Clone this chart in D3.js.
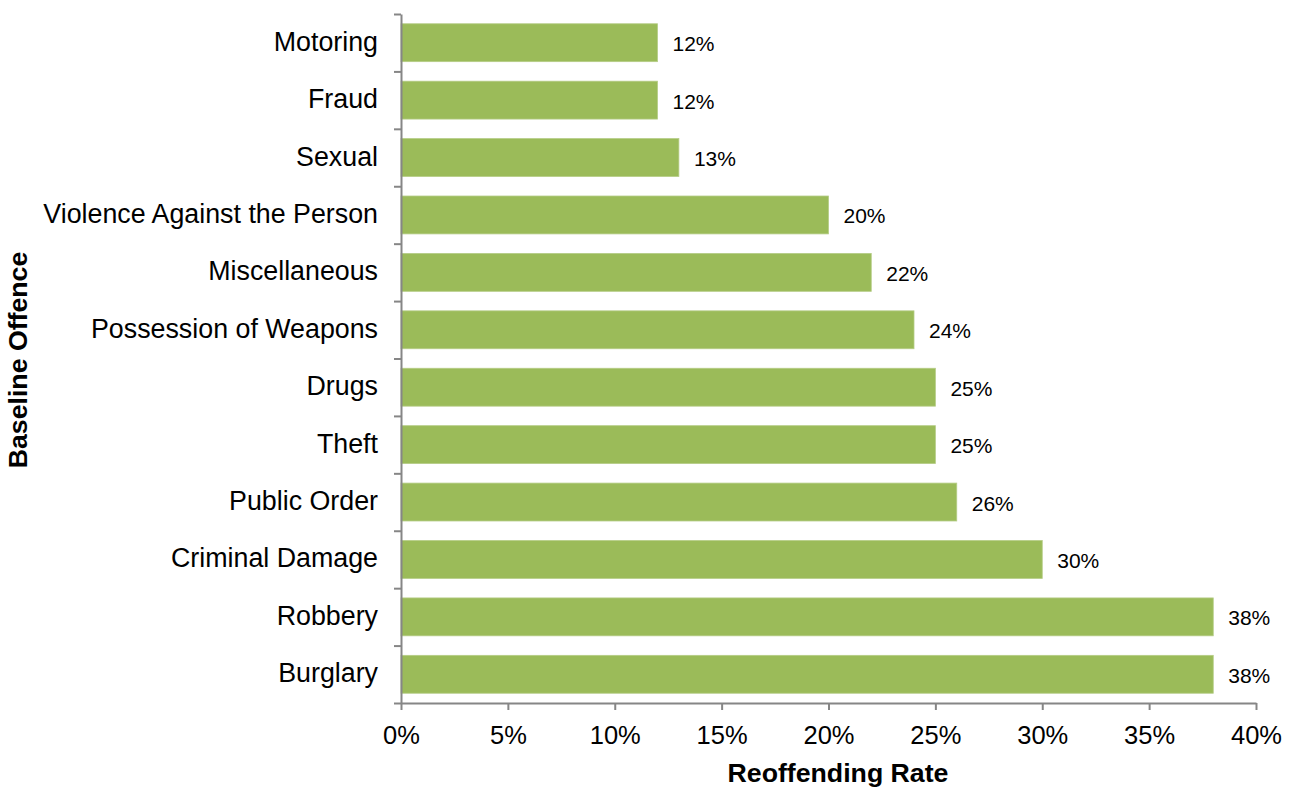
<!DOCTYPE html>
<html>
<head>
<meta charset="utf-8">
<script src="https://cdn.jsdelivr.net/npm/d3@7"></script>
<style>
  body { margin: 0; background: #fff; }
  svg { display: block; font-family: "Liberation Sans", Arial, sans-serif; }
</style>
</head>
<body>
<svg id="chart" width="1298" height="787"></svg>
<script>
  const categories = ["Motoring", "Fraud", "Sexual", "Violence Against the Person", "Miscellaneous",
    "Possession of Weapons", "Drugs", "Theft", "Public Order", "Criminal Damage", "Robbery", "Burglary"];
  const rates = [0.12, 0.12, 0.13, 0.20, 0.22, 0.24, 0.25, 0.25, 0.26, 0.30, 0.38, 0.38];
  const xTicks = [0, 0.05, 0.10, 0.15, 0.20, 0.25, 0.30, 0.35, 0.40];

  const BAR_COLOR = "#9bbb59";
  const AXIS_COLOR = "#868686";
  const plotLeft = 401, plotRight = 1256, plotTop = 14, plotBottom = 703;

  const svg = d3.select("#chart");

  const x = d3.scaleLinear().domain([0, 0.4]).range([plotLeft, plotRight]);
  const y = d3.scaleBand().domain(categories).range([plotTop, plotBottom])
    .paddingInner(0.34).paddingOuter(0.17);
  // category boundaries for the tick marks
  const yEdge = d3.scaleLinear().domain([0, categories.length]).range([plotTop, plotBottom]);

  // bars
  svg.append("g").selectAll("rect")
    .data(categories)
    .join("rect")
    .attr("x", x(0))
    .attr("y", d => y(d))
    .attr("width", (d, i) => x(rates[i]) - x(0))
    .attr("height", y.bandwidth())
    .attr("fill", BAR_COLOR)
    .attr("stroke", "#b5cc86")
    .attr("stroke-width", 0.8);

  // value labels
  svg.append("g").selectAll("text")
    .data(categories)
    .join("text")
    .attr("x", (d, i) => x(rates[i]) + 15)
    .attr("y", d => y(d) + y.bandwidth() / 2 + 8.5)
    .attr("font-size", "21px")
    .attr("fill", "#000")
    .text((d, i) => d3.format(".0%")(rates[i]));

  // y axis (ticks at category boundaries)
  const yAxis = svg.append("g")
    .attr("transform", `translate(${plotLeft},0)`)
    .call(d3.axisLeft(yEdge).tickValues(d3.range(categories.length + 1))
      .tickFormat("").tickSize(7).tickSizeOuter(0));
  yAxis.selectAll("path, line").attr("stroke", AXIS_COLOR).attr("stroke-width", 2);

  // category labels
  svg.append("g").selectAll("text")
    .data(categories)
    .join("text")
    .attr("x", plotLeft - 23)
    .attr("y", d => y(d) + y.bandwidth() / 2 + 8)
    .attr("text-anchor", "end")
    .attr("font-size", "26.8px")
    .attr("fill", "#000")
    .text(d => d);

  // x axis
  const xAxis = svg.append("g")
    .attr("transform", `translate(0,${plotBottom})`)
    .call(d3.axisBottom(x).tickValues(xTicks).tickFormat(d3.format(".0%"))
      .tickSize(7).tickSizeOuter(0).tickPadding(16));
  xAxis.selectAll("path, line").attr("stroke", AXIS_COLOR).attr("stroke-width", 2);
  xAxis.selectAll("text").attr("font-size", "25.5px").attr("fill", "#000")
    .attr("font-family", "Liberation Sans, Arial, sans-serif");

  // axis titles
  svg.append("text")
    .attr("x", 838)
    .attr("y", 782)
    .attr("text-anchor", "middle")
    .attr("font-size", "26.7px")
    .attr("font-weight", "bold")
    .text("Reoffending Rate");

  svg.append("text")
    .attr("transform", "translate(27,360) rotate(-90)")
    .attr("text-anchor", "middle")
    .attr("font-size", "26.7px")
    .attr("font-weight", "bold")
    .text("Baseline Offence");
</script>
</body>
</html>
